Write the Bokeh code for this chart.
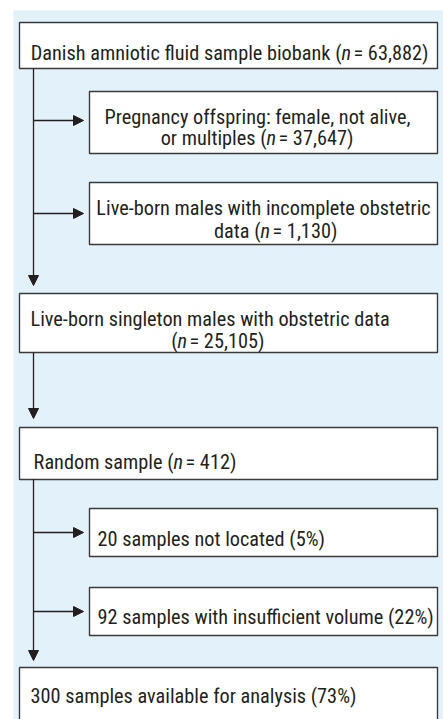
from bokeh.plotting import figure
from bokeh.embed import file_html
from bokeh.resources import INLINE
from bokeh.core.properties import value
from bokeh.models import Range1d, Arrow, NormalHead

# ---- data ----
stages = ["Danish amniotic fluid sample biobank",
          "Live-born singleton males with obstetric data",
          "Random sample"]
stage_n = [63882, 25105, 412]
excl_labels = ["Pregnancy offspring: female, not alive,|or multiples",
               "Live-born males with incomplete obstetric|data"]
excl_n = [37647, 1130]
sample_labels = ["samples not located", "samples with insufficient volume",
                 "samples available for analysis"]
sample_counts = [20, 92, 300]
sample_pct = [5, 22, 73]

FONT = value("Roboto Condensed")
FS = "20.3px"
TXT = "#231f20"
LINE = "#3a3a3a"

W, H = 443, 719
p = figure(width=W, height=H, output_backend="svg", toolbar_location=None,
           x_range=Range1d(0, W), y_range=Range1d(H, 0), min_border=0)
p.axis.visible = False
p.grid.visible = False
p.outline_line_color = None
p.background_fill_color = "white"
p.border_fill_color = "white"

# light blue panel
p.quad(left=[13], right=[W], top=[10], bottom=[H], fill_color="#E3F1FB", line_color=None)

# boxes
bl = [19, 89, 89, 19, 19, 89, 89, 19]
br = [437] * 8
bt = [22, 91, 182, 293, 427, 508, 587, 667]
bb = [68, 153, 244, 352, 479, 556, 635, 760]
p.quad(left=bl, right=br, top=bt, bottom=bb, fill_color="white", line_color=LINE, line_width=1.4)

# connectors
XM = 33
def arrow(x0, y0, x1, y1):
    p.add_layout(Arrow(end=NormalHead(size=10, fill_color="#231f20", line_color="#231f20", line_width=1),
                       x_start=x0, y_start=y0, x_end=x1, y_end=y1, line_color="#231f20", line_width=1.3))

arrow(XM, 68, XM, 285)
arrow(XM, 352, XM, 418)
arrow(XM, 479, XM, 660)
for yy in [120, 213, 532, 611]:
    arrow(XM, yy, 83, yy)

def t(x, y, s, align="left", italic=False):
    p.text(x=[x], y=[y], text=[s], text_font=FONT, text_font_size=FS, text_color=TXT,
           text_align=align, text_baseline="alphabetic",
           text_font_style="italic" if italic else "normal")

def n_text(prefix, n, xn, y):
    t(xn, y, prefix, align="right")
    t(xn, y, "n", italic=True)
    t(xn + 12, y, f"= {n:,})")

# stage boxes
n_text(stages[0] + " (", stage_n[0], 341, 52.3)
t(30, 318.3, stages[1])
n_text("(", stage_n[1], 177, 340)
n_text(stages[2] + " (", stage_n[2], 173, 461.7)

# exclusion boxes
l1, l2 = excl_labels[0].split("|")
t(257, 116.7, l1, align="center")
n_text(l2 + " (", excl_n[0], 266, 137.3)
l1, l2 = excl_labels[1].split("|")
t(263, 207.7, l1, align="center")
n_text(l2 + " (", excl_n[1], 260, 230)

# sample boxes
t(97, 538.3, f"{sample_counts[0]} {sample_labels[0]} ({sample_pct[0]}%)")
t(97, 616.7, f"{sample_counts[1]} {sample_labels[1]} ({sample_pct[1]}%)")
t(30, 695, f"{sample_counts[2]} {sample_labels[2]} ({sample_pct[2]}%)")

open("out.html", "w").write(file_html(p, INLINE))
